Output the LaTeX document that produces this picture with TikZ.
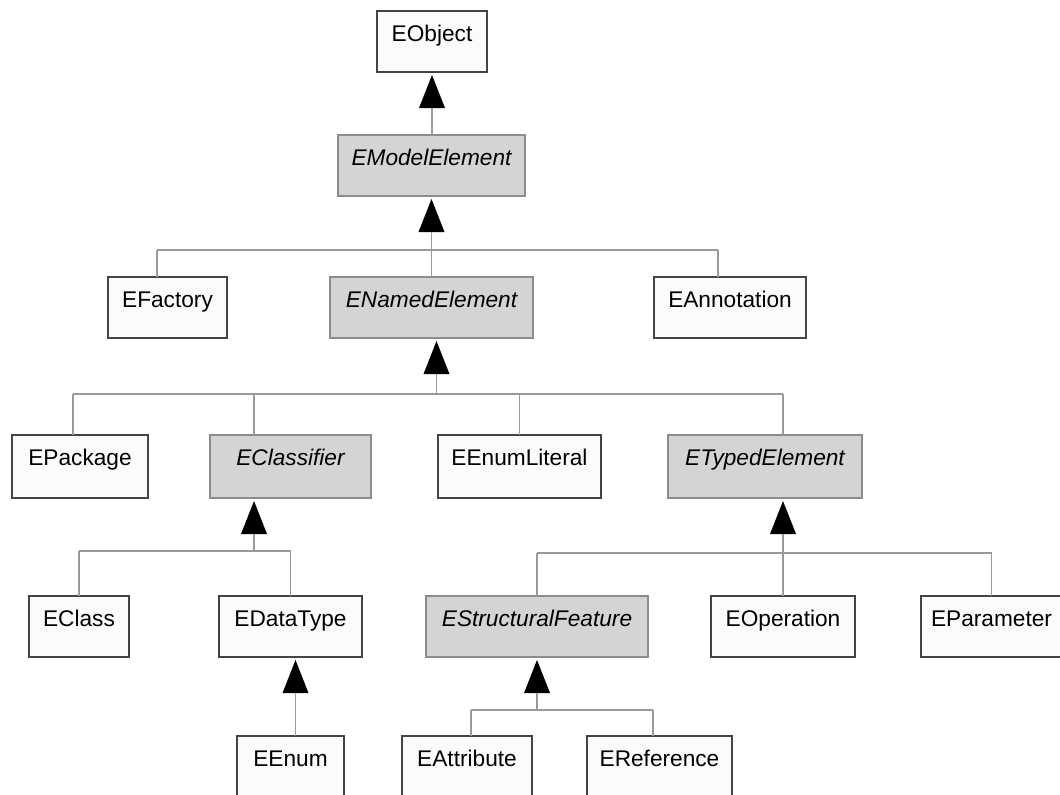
\documentclass[tikz,border=0pt]{standalone}
\usepackage{fontspec}
\setmainfont{Liberation Sans}
\usetikzlibrary{calc}

\definecolor{boxline}{HTML}{444444}
\definecolor{absline}{HTML}{8C8C8C}
\definecolor{connline}{HTML}{9A9A9A}
\definecolor{absfill}{HTML}{D4D4D4}
\definecolor{concfill}{HTML}{FBFBFB}

\begin{document}
\begin{tikzpicture}[x=0.75pt,y=-0.75pt,
  cls/.style={draw=boxline, line width=1.1pt, fill=concfill, anchor=north west,
    inner xsep=0pt, inner ysep=0pt, outer sep=0pt, align=center,
    text height=22.875pt, font=\fontsize{17}{20}\selectfont},
  abstractcls/.style={cls, draw=absline, fill=absfill, font=\fontsize{17}{20}\selectfont\itshape},
  conn/.style={draw=connline, line width=0.8pt},
  tri/.style={fill=black}]

\useasboundingbox (0,0) rectangle (1060,794);
\fill[white] (0,0) rectangle (1060,794);
\clip (0,0) rectangle (1060,794);

% ---- classes (top left corner in px, width and depth in pt) ----
\node[cls, minimum width=82.5pt, text depth=22.875pt] (eobject) at (377,11) {EObject};
\node[abstractcls, minimum width=140.25pt, text depth=22.875pt] (emodel) at (338,135) {EModelElement};

\node[cls, minimum width=89.25pt, text depth=22.875pt] (efactory) at (108,277) {EFactory};
\node[abstractcls, minimum width=152.25pt, text depth=22.875pt] (enamed) at (330,277) {ENamedElement};
\node[cls, minimum width=114pt, text depth=22.875pt] (eannot) at (654,277) {EAnnotation};

\node[cls, minimum width=102pt, text depth=24.375pt] (epackage) at (12,435) {EPackage};
\node[abstractcls, minimum width=120.75pt, text depth=24.375pt] (eclassifier) at (210,435) {EClassifier};
\node[cls, minimum width=122.25pt, text depth=24.375pt] (eenumlit) at (438,435) {EEnumLiteral};
\node[abstractcls, minimum width=145.5pt, text depth=24.375pt] (etyped) at (668,435) {ETypedElement};

\node[cls, minimum width=75pt, text depth=22.875pt] (eclass) at (29,596) {EClass};
\node[cls, minimum width=107.25pt, text depth=22.875pt] (edatatype) at (219,596) {EDataType};
\node[abstractcls, minimum width=166.5pt, text depth=22.875pt] (estruct) at (426,596) {EStructuralFeature};
\node[cls, minimum width=108pt, text depth=22.875pt] (eoperation) at (711,596) {EOperation};
\node[cls, minimum width=105.75pt, text depth=22.875pt] (eparam) at (921,596) {EParameter};

\node[cls, minimum width=80.25pt, text depth=23.625pt] (eenum) at (237,736) {EEnum};
\node[cls, minimum width=97.5pt, text depth=23.625pt] (eattr) at (402,736) {EAttribute};
\node[cls, minimum width=108.75pt, text depth=23.625pt] (eref) at (587,736) {EReference};

% ---- attachment points on the child boxes ----
\coordinate (pfactory) at ($(efactory.north west)+(49,0)$);
\coordinate (pnamed) at (enamed.north);
\coordinate (pannot) at ($(eannot.north west)+(64,0)$);
\coordinate (ppackage) at ($(epackage.north west)+(61,0)$);
\coordinate (pclassifier) at ($(eclassifier.north west)+(44,0)$);
\coordinate (penumlit) at (eenumlit.north);
\coordinate (ptyped) at (etyped.north -| eoperation.north);
\coordinate (pstruct) at (estruct.north);
\coordinate (pparam) at (eparam.north);
\coordinate (pattr) at ($(eattr.north west)+(69,0)$);
\coordinate (pref) at ($(eref.north west)+(66,0)$);

% ---- horizontal bus levels ----
\coordinate (bus1) at (0,250);
\coordinate (bus2) at (0,394);
\coordinate (bus3) at (0,551);
\coordinate (bus4) at (0,553);
\coordinate (bus5) at (0,710);

% EModelElement -> EObject
\coordinate (g0) at ($(eobject.south)+(0,3)$);
\fill[tri] (g0) -- ++(-13,33) -- ++(26,0) -- cycle;
\draw[conn] ($(g0)+(0,33)$) -- (emodel.north -| g0);

% children of EModelElement
\coordinate (g1) at ($(emodel.south)+(0,3)$);
\fill[tri] (g1) -- ++(-13,33) -- ++(26,0) -- cycle;
\draw[conn] ($(g1)+(0,33)$) -- (g1 |- bus1);
\draw[conn] (pfactory |- bus1) -- (pannot |- bus1);
\draw[conn] (pfactory |- bus1) -- (pfactory);
\draw[conn] (pnamed |- bus1) -- (pnamed);
\draw[conn] (pannot |- bus1) -- (pannot);

% children of ENamedElement
\coordinate (g2) at ($(enamed.south)+(5,3)$);
\fill[tri] (g2) -- ++(-13,33) -- ++(26,0) -- cycle;
\draw[conn] ($(g2)+(0,33)$) -- (g2 |- bus2);
\draw[conn] (ppackage |- bus2) -- (ptyped |- bus2);
\draw[conn] (ppackage |- bus2) -- (ppackage);
\draw[conn] (pclassifier |- bus2) -- (pclassifier);
\draw[conn] (penumlit |- bus2) -- (penumlit);
\draw[conn] (ptyped |- bus2) -- (ptyped);

% children of EClassifier
\coordinate (g3) at ($(pclassifier |- eclassifier.south)+(0,3)$);
\fill[tri] (g3) -- ++(-13,33) -- ++(26,0) -- cycle;
\draw[conn] ($(g3)+(0,33)$) -- (g3 |- bus3);
\draw[conn] (eclass.north |- bus3) -- (edatatype.north |- bus3);
\draw[conn] (eclass.north |- bus3) -- (eclass.north);
\draw[conn] (edatatype.north |- bus3) -- (edatatype.north);

% EEnum -> EDataType
\coordinate (g4) at ($(edatatype.south)+(5,3)$);
\fill[tri] (g4) -- ++(-13,33) -- ++(26,0) -- cycle;
\draw[conn] ($(g4)+(0,33)$) -- (eenum.north -| g4);

% children of ETypedElement
\coordinate (g5) at ($(eoperation.north |- etyped.south)+(0,3)$);
\fill[tri] (g5) -- ++(-13,33) -- ++(26,0) -- cycle;
\draw[conn] ($(g5)+(0,33)$) -- (eoperation.north);
\draw[conn] (pstruct |- bus4) -- (pparam |- bus4);
\draw[conn] (pstruct |- bus4) -- (pstruct);
\draw[conn] (pparam |- bus4) -- (pparam);

% children of EStructuralFeature
\coordinate (g6) at ($(estruct.south)+(0,3)$);
\fill[tri] (g6) -- ++(-13,33) -- ++(26,0) -- cycle;
\draw[conn] ($(g6)+(0,33)$) -- (g6 |- bus5);
\draw[conn] (pattr |- bus5) -- (pref |- bus5);
\draw[conn] (pattr |- bus5) -- (pattr);
\draw[conn] (pref |- bus5) -- (pref);

\end{tikzpicture}
\end{document}
